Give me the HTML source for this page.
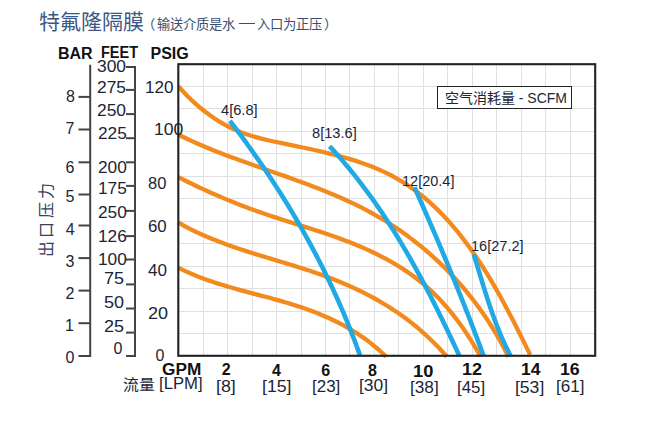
<!DOCTYPE html>
<html lang="zh-CN"><head><meta charset="utf-8">
<style>
html,body{margin:0;padding:0;background:#fff;}
body{width:657px;height:436px;position:relative;overflow:hidden;font-family:"Liberation Sans",sans-serif;}
svg{position:absolute;left:0;top:0;}
.g{stroke:#e0e0e0;stroke-width:1;}
.o{fill:none;stroke:#f28a1e;stroke-width:4.3;stroke-linecap:butt;stroke-linejoin:round;}
.b{fill:none;stroke:#20a9e4;stroke-width:4.6;stroke-linecap:butt;stroke-linejoin:round;}
.f{fill:none;stroke:#222;stroke-width:2.1;}
.ax{fill:none;stroke:#444;stroke-width:2;}
.t{position:absolute;white-space:nowrap;line-height:1;transform-origin:0 0;}
</style></head><body>
<svg width="657" height="436" viewBox="0 0 657 436">
<line x1="203.50" y1="64.2" x2="203.50" y2="355.8" class="g"/>
<line x1="227.50" y1="64.2" x2="227.50" y2="355.8" class="g"/>
<line x1="252.50" y1="64.2" x2="252.50" y2="355.8" class="g"/>
<line x1="276.50" y1="64.2" x2="276.50" y2="355.8" class="g"/>
<line x1="301.50" y1="64.2" x2="301.50" y2="355.8" class="g"/>
<line x1="325.50" y1="64.2" x2="325.50" y2="355.8" class="g"/>
<line x1="349.50" y1="64.2" x2="349.50" y2="355.8" class="g"/>
<line x1="374.50" y1="64.2" x2="374.50" y2="355.8" class="g"/>
<line x1="398.50" y1="64.2" x2="398.50" y2="355.8" class="g"/>
<line x1="423.50" y1="64.2" x2="423.50" y2="355.8" class="g"/>
<line x1="447.50" y1="64.2" x2="447.50" y2="355.8" class="g"/>
<line x1="472.50" y1="64.2" x2="472.50" y2="355.8" class="g"/>
<line x1="496.50" y1="64.2" x2="496.50" y2="355.8" class="g"/>
<line x1="521.50" y1="64.2" x2="521.50" y2="355.8" class="g"/>
<line x1="545.50" y1="64.2" x2="545.50" y2="355.8" class="g"/>
<line x1="570.50" y1="64.2" x2="570.50" y2="355.8" class="g"/>
<line x1="178.3" y1="86.50" x2="595.2" y2="86.50" class="g"/>
<line x1="178.3" y1="108.50" x2="595.2" y2="108.50" class="g"/>
<line x1="178.3" y1="131.50" x2="595.2" y2="131.50" class="g"/>
<line x1="178.3" y1="153.50" x2="595.2" y2="153.50" class="g"/>
<line x1="178.3" y1="176.50" x2="595.2" y2="176.50" class="g"/>
<line x1="178.3" y1="198.50" x2="595.2" y2="198.50" class="g"/>
<line x1="178.3" y1="221.50" x2="595.2" y2="221.50" class="g"/>
<line x1="178.3" y1="243.50" x2="595.2" y2="243.50" class="g"/>
<line x1="178.3" y1="266.50" x2="595.2" y2="266.50" class="g"/>
<line x1="178.3" y1="288.50" x2="595.2" y2="288.50" class="g"/>
<line x1="178.3" y1="311.50" x2="595.2" y2="311.50" class="g"/>
<line x1="178.3" y1="333.50" x2="595.2" y2="333.50" class="g"/>
<path d="M178.55 86.40 L182.66 90.99 L186.88 95.43 L191.22 99.71 L195.68 103.82 L200.24 107.76 L204.91 111.52 L209.68 115.09 L214.55 118.45 L219.52 121.61 L224.58 124.55 L229.74 127.25 L234.99 129.73 L240.32 131.95 L245.73 133.95 L251.22 135.75 L256.77 137.37 L262.39 138.85 L268.05 140.22 L273.77 141.49 L279.52 142.71 L285.31 143.90 L291.13 145.09 L296.96 146.28 L302.81 147.50 L308.66 148.74 L314.51 150.02 L320.36 151.34 L326.20 152.72 L332.01 154.15 L337.80 155.65 L343.55 157.24 L349.27 158.90 L354.94 160.66 L360.56 162.52 L366.12 164.49 L371.62 166.58 L377.04 168.79 L382.38 171.14 L387.64 173.64 L392.81 176.28 L397.88 179.08 L402.85 182.05 L407.72 185.19 L412.48 188.47 L417.15 191.91 L421.71 195.50 L426.18 199.22 L430.56 203.07 L434.85 207.05 L439.05 211.15 L443.15 215.36 L447.18 219.68 L451.12 224.11 L454.97 228.63 L458.75 233.23 L462.44 237.93 L466.07 242.69 L469.61 247.53 L473.08 252.44 L476.49 257.40 L479.82 262.42 L483.09 267.48 L486.29 272.59 L489.42 277.73 L492.50 282.89 L495.51 288.08 L498.47 293.29 L501.38 298.51 L504.22 303.73 L507.02 308.95 L509.77 314.16 L512.46 319.35 L515.12 324.53 L517.72 329.68 L520.29 334.80 L522.81 339.88 L525.29 344.91 L527.74 349.90 L530.15 354.82" class="o"/>
<path d="M178.09 134.48 L182.67 136.74 L187.28 138.95 L191.93 141.11 L196.62 143.21 L201.33 145.26 L206.07 147.26 L210.84 149.23 L215.63 151.15 L220.44 153.04 L225.28 154.90 L230.14 156.73 L235.01 158.53 L239.89 160.31 L244.79 162.07 L249.70 163.82 L254.63 165.55 L259.55 167.28 L264.48 169.00 L269.42 170.72 L274.36 172.44 L279.29 174.16 L284.23 175.89 L289.16 177.64 L294.08 179.40 L298.99 181.17 L303.90 182.97 L308.79 184.79 L313.67 186.64 L318.53 188.52 L323.37 190.44 L328.19 192.40 L332.99 194.39 L337.77 196.43 L342.52 198.52 L347.24 200.67 L351.94 202.86 L356.60 205.12 L361.22 207.43 L365.82 209.81 L370.37 212.26 L374.88 214.78 L379.36 217.37 L383.79 220.03 L388.18 222.76 L392.53 225.55 L396.83 228.41 L401.09 231.34 L405.31 234.33 L409.47 237.39 L413.59 240.51 L417.67 243.70 L421.69 246.95 L425.66 250.27 L429.58 253.65 L433.45 257.09 L437.27 260.59 L441.03 264.15 L444.74 267.77 L448.39 271.46 L451.99 275.20 L455.53 279.00 L459.01 282.86 L462.43 286.78 L465.79 290.75 L469.09 294.78 L472.33 298.87 L475.50 303.01 L478.61 307.21 L481.66 311.46 L484.64 315.76 L487.56 320.12 L490.40 324.53 L493.18 328.99 L495.89 333.51 L498.53 338.07 L501.10 342.69 L503.60 347.35 L506.02 352.07 L508.37 356.83" class="o"/>
<path d="M178.34 177.05 L182.42 179.16 L186.52 181.23 L190.63 183.26 L194.75 185.26 L198.88 187.23 L203.02 189.17 L207.17 191.07 L211.34 192.94 L215.52 194.79 L219.71 196.59 L223.91 198.37 L228.12 200.12 L232.35 201.84 L236.59 203.52 L240.84 205.18 L245.10 206.81 L249.38 208.41 L253.66 209.98 L257.96 211.52 L262.28 213.03 L266.61 214.51 L270.94 215.97 L275.29 217.41 L279.65 218.83 L284.02 220.23 L288.39 221.62 L292.76 223.00 L297.14 224.39 L301.52 225.77 L305.90 227.15 L310.27 228.55 L314.64 229.95 L319.00 231.38 L323.36 232.82 L327.70 234.28 L332.04 235.78 L336.36 237.30 L340.66 238.86 L344.95 240.46 L349.22 242.10 L353.47 243.79 L357.70 245.52 L361.91 247.30 L366.08 249.14 L370.23 251.03 L374.35 252.98 L378.43 254.98 L382.47 257.05 L386.48 259.18 L390.44 261.37 L394.36 263.63 L398.24 265.97 L402.07 268.37 L405.84 270.84 L409.57 273.40 L413.23 276.03 L416.84 278.74 L420.39 281.53 L423.88 284.40 L427.31 287.37 L430.66 290.42 L433.96 293.55 L437.18 296.77 L440.35 300.06 L443.44 303.42 L446.48 306.86 L449.45 310.36 L452.36 313.93 L455.21 317.55 L458.00 321.24 L460.73 324.97 L463.40 328.76 L466.01 332.59 L468.57 336.46 L471.06 340.37 L473.50 344.32 L475.88 348.30 L478.21 352.31 L480.48 356.34" class="o"/>
<path d="M177.94 222.27 L181.25 224.17 L184.59 226.01 L187.96 227.80 L191.35 229.54 L194.77 231.22 L198.21 232.86 L201.68 234.44 L205.17 235.99 L208.68 237.49 L212.21 238.95 L215.75 240.37 L219.32 241.76 L222.90 243.11 L226.50 244.43 L230.11 245.72 L233.74 246.99 L237.37 248.23 L241.02 249.45 L244.68 250.65 L248.35 251.83 L252.03 252.99 L255.71 254.14 L259.41 255.28 L263.10 256.41 L266.80 257.53 L270.51 258.65 L274.21 259.77 L277.92 260.88 L281.62 262.00 L285.33 263.12 L289.03 264.25 L292.73 265.38 L296.43 266.53 L300.12 267.69 L303.80 268.87 L307.48 270.06 L311.14 271.27 L314.80 272.50 L318.45 273.76 L322.09 275.05 L325.71 276.36 L329.32 277.70 L332.92 279.08 L336.50 280.49 L340.06 281.94 L343.60 283.42 L347.13 284.94 L350.64 286.50 L354.13 288.10 L357.61 289.73 L361.06 291.41 L364.49 293.12 L367.90 294.87 L371.28 296.67 L374.65 298.51 L377.99 300.39 L381.30 302.31 L384.59 304.28 L387.86 306.29 L391.10 308.34 L394.31 310.44 L397.50 312.59 L400.66 314.79 L403.79 317.03 L406.89 319.32 L409.96 321.66 L412.99 324.04 L416.00 326.48 L418.98 328.97 L421.92 331.51 L424.83 334.10 L427.71 336.74 L430.55 339.44 L433.36 342.19 L436.13 344.99 L438.86 347.85 L441.56 350.77 L444.22 353.74 L446.84 356.76" class="o"/>
<path d="M178.13 267.62 L180.70 268.91 L183.29 270.16 L185.90 271.38 L188.52 272.56 L191.15 273.71 L193.80 274.83 L196.46 275.91 L199.13 276.96 L201.81 277.99 L204.51 278.98 L207.21 279.95 L209.93 280.90 L212.66 281.82 L215.39 282.72 L218.13 283.61 L220.88 284.47 L223.64 285.31 L226.41 286.14 L229.18 286.95 L231.95 287.75 L234.74 288.54 L237.52 289.32 L240.31 290.08 L243.10 290.84 L245.90 291.59 L248.70 292.34 L251.50 293.09 L254.30 293.83 L257.10 294.57 L259.90 295.31 L262.70 296.05 L265.50 296.79 L268.29 297.54 L271.09 298.30 L273.88 299.06 L276.67 299.83 L279.45 300.61 L282.23 301.41 L285.00 302.21 L287.77 303.03 L290.53 303.87 L293.29 304.72 L296.03 305.59 L298.77 306.48 L301.50 307.39 L304.22 308.32 L306.94 309.28 L309.64 310.26 L312.33 311.26 L315.01 312.28 L317.68 313.34 L320.34 314.42 L322.98 315.52 L325.61 316.66 L328.23 317.82 L330.84 319.02 L333.43 320.24 L336.01 321.50 L338.57 322.79 L341.12 324.11 L343.65 325.46 L346.17 326.86 L348.67 328.28 L351.15 329.75 L353.61 331.25 L356.06 332.78 L358.49 334.36 L360.90 335.98 L363.29 337.64 L365.66 339.34 L368.01 341.08 L370.34 342.87 L372.65 344.70 L374.93 346.57 L377.20 348.49 L379.44 350.46 L381.66 352.47 L383.86 354.53 L386.03 356.64" class="o"/>
<path d="M229.87 120.82 L231.94 123.54 L234.00 126.25 L236.05 128.98 L238.10 131.71 L240.14 134.45 L242.17 137.20 L244.18 139.95 L246.19 142.72 L248.20 145.48 L250.19 148.26 L252.17 151.05 L254.14 153.84 L256.10 156.64 L258.06 159.44 L260.00 162.25 L261.94 165.07 L263.86 167.90 L265.77 170.73 L267.68 173.58 L269.57 176.42 L271.46 179.28 L273.33 182.14 L275.19 185.01 L277.04 187.89 L278.89 190.77 L280.72 193.66 L282.54 196.56 L284.35 199.46 L286.15 202.37 L287.93 205.29 L289.71 208.21 L291.47 211.14 L293.23 214.08 L294.97 217.03 L296.70 219.98 L298.42 222.93 L300.13 225.90 L301.83 228.87 L303.51 231.85 L305.18 234.83 L306.84 237.82 L308.49 240.82 L310.13 243.82 L311.75 246.83 L313.37 249.85 L314.97 252.87 L316.55 255.90 L318.13 258.94 L319.69 261.98 L321.24 265.03 L322.77 268.08 L324.30 271.15 L325.81 274.21 L327.30 277.29 L328.79 280.37 L330.26 283.45 L331.72 286.54 L333.16 289.64 L334.59 292.75 L336.01 295.86 L337.41 298.97 L338.80 302.10 L340.17 305.23 L341.54 308.36 L342.88 311.50 L344.22 314.65 L345.53 317.80 L346.84 320.96 L348.13 324.12 L349.41 327.29 L350.67 330.47 L351.91 333.65 L353.14 336.84 L354.36 340.03 L355.56 343.23 L356.75 346.44 L357.92 349.65 L359.08 352.86 L360.22 356.08" class="b"/>
<path d="M329.60 146.25 L331.75 148.57 L333.88 150.91 L336.00 153.25 L338.10 155.61 L340.18 157.98 L342.24 160.36 L344.29 162.75 L346.32 165.15 L348.33 167.57 L350.33 169.99 L352.31 172.43 L354.28 174.88 L356.23 177.34 L358.17 179.81 L360.09 182.29 L361.99 184.78 L363.88 187.28 L365.76 189.79 L367.62 192.31 L369.47 194.84 L371.30 197.39 L373.12 199.94 L374.93 202.50 L376.72 205.06 L378.50 207.64 L380.26 210.23 L382.02 212.82 L383.76 215.43 L385.48 218.04 L387.20 220.66 L388.90 223.29 L390.59 225.93 L392.27 228.57 L393.93 231.23 L395.59 233.89 L397.23 236.55 L398.86 239.23 L400.48 241.91 L402.09 244.60 L403.69 247.30 L405.28 250.00 L406.85 252.71 L408.42 255.42 L409.98 258.14 L411.52 260.87 L413.06 263.60 L414.59 266.34 L416.11 269.09 L417.62 271.84 L419.12 274.59 L420.61 277.35 L422.09 280.12 L423.57 282.89 L425.03 285.67 L426.49 288.45 L427.94 291.23 L429.38 294.02 L430.82 296.81 L432.24 299.61 L433.66 302.41 L435.08 305.21 L436.48 308.02 L437.88 310.83 L439.27 313.65 L440.66 316.46 L442.04 319.28 L443.41 322.11 L444.78 324.93 L446.14 327.76 L447.50 330.59 L448.85 333.42 L450.19 336.26 L451.54 339.10 L452.87 341.93 L454.20 344.77 L455.53 347.61 L456.85 350.46 L458.17 353.30 L459.49 356.15" class="b"/>
<path d="M414.51 187.47 L415.45 189.57 L416.39 191.67 L417.32 193.77 L418.26 195.88 L419.19 197.98 L420.12 200.09 L421.05 202.19 L421.98 204.30 L422.90 206.41 L423.83 208.52 L424.75 210.62 L425.68 212.73 L426.60 214.85 L427.52 216.96 L428.44 219.07 L429.36 221.18 L430.27 223.30 L431.19 225.41 L432.10 227.53 L433.01 229.65 L433.92 231.76 L434.83 233.88 L435.74 236.00 L436.64 238.12 L437.55 240.24 L438.45 242.37 L439.35 244.49 L440.25 246.61 L441.15 248.74 L442.04 250.86 L442.94 252.99 L443.83 255.12 L444.72 257.24 L445.61 259.37 L446.50 261.50 L447.38 263.63 L448.27 265.76 L449.15 267.89 L450.03 270.03 L450.91 272.16 L451.78 274.29 L452.66 276.43 L453.53 278.57 L454.40 280.70 L455.27 282.84 L456.14 284.98 L457.01 287.12 L457.87 289.26 L458.74 291.40 L459.60 293.54 L460.45 295.68 L461.31 297.82 L462.16 299.97 L463.02 302.11 L463.87 304.26 L464.72 306.40 L465.56 308.55 L466.41 310.70 L467.25 312.85 L468.09 314.99 L468.93 317.14 L469.76 319.29 L470.60 321.45 L471.43 323.60 L472.26 325.75 L473.09 327.90 L473.91 330.06 L474.74 332.21 L475.56 334.37 L476.38 336.53 L477.19 338.68 L478.01 340.84 L478.82 343.00 L479.63 345.16 L480.44 347.32 L481.24 349.48 L482.05 351.64 L482.85 353.81 L483.65 355.97" class="b"/>
<path d="M473.76 254.42 L474.16 255.73 L474.57 257.03 L474.97 258.34 L475.37 259.64 L475.77 260.95 L476.17 262.26 L476.57 263.57 L476.97 264.87 L477.37 266.18 L477.77 267.49 L478.16 268.80 L478.56 270.11 L478.96 271.42 L479.36 272.73 L479.75 274.04 L480.15 275.35 L480.55 276.66 L480.95 277.97 L481.34 279.28 L481.74 280.59 L482.14 281.90 L482.55 283.21 L482.95 284.52 L483.35 285.83 L483.76 287.14 L484.16 288.45 L484.57 289.75 L484.98 291.06 L485.39 292.37 L485.80 293.67 L486.21 294.98 L486.63 296.28 L487.05 297.59 L487.47 298.89 L487.89 300.19 L488.32 301.49 L488.75 302.80 L489.18 304.09 L489.61 305.39 L490.05 306.69 L490.49 307.99 L490.93 309.28 L491.38 310.58 L491.83 311.87 L492.28 313.16 L492.74 314.45 L493.20 315.74 L493.67 317.03 L494.14 318.31 L494.61 319.60 L495.09 320.88 L495.57 322.16 L496.05 323.44 L496.54 324.72 L497.04 325.99 L497.54 327.27 L498.04 328.54 L498.55 329.81 L499.07 331.08 L499.59 332.35 L500.11 333.61 L500.65 334.87 L501.18 336.13 L501.72 337.39 L502.27 338.65 L502.83 339.90 L503.39 341.15 L503.95 342.40 L504.53 343.65 L505.11 344.89 L505.69 346.13 L506.28 347.37 L506.88 348.61 L507.49 349.84 L508.10 351.07 L508.72 352.30 L509.35 353.52 L509.98 354.75 L510.62 355.96" class="b"/>
<rect x="178.30" y="64.20" width="416.90" height="291.60" class="f"/>
<path d="M90.20 64.80 V356.00 H78.50" class="ax"/>
<line x1="78.50" y1="96.90" x2="90.20" y2="96.90" class="ax"/>
<line x1="78.50" y1="129.50" x2="90.20" y2="129.50" class="ax"/>
<line x1="78.50" y1="162.30" x2="90.20" y2="162.30" class="ax"/>
<line x1="78.50" y1="194.50" x2="90.20" y2="194.50" class="ax"/>
<line x1="78.50" y1="225.50" x2="90.20" y2="225.50" class="ax"/>
<line x1="78.50" y1="258.10" x2="90.20" y2="258.10" class="ax"/>
<line x1="78.50" y1="290.60" x2="90.20" y2="290.60" class="ax"/>
<line x1="78.50" y1="323.20" x2="90.20" y2="323.20" class="ax"/>
<path d="M126.00 66.90 H135.00 V356.00 H126.00" class="ax"/>
<line x1="126.00" y1="89.90" x2="135.00" y2="89.90" class="ax"/>
<line x1="126.00" y1="114.10" x2="135.00" y2="114.10" class="ax"/>
<line x1="126.00" y1="138.20" x2="135.00" y2="138.20" class="ax"/>
<line x1="126.00" y1="162.30" x2="135.00" y2="162.30" class="ax"/>
<line x1="126.00" y1="185.90" x2="135.00" y2="185.90" class="ax"/>
<line x1="126.00" y1="210.90" x2="135.00" y2="210.90" class="ax"/>
<line x1="126.00" y1="236.10" x2="135.00" y2="236.10" class="ax"/>
<line x1="126.00" y1="259.50" x2="135.00" y2="259.50" class="ax"/>
<line x1="126.00" y1="284.40" x2="135.00" y2="284.40" class="ax"/>
<line x1="126.00" y1="308.50" x2="135.00" y2="308.50" class="ax"/>
<line x1="126.00" y1="332.60" x2="135.00" y2="332.60" class="ax"/>
</svg>
<div style="position:absolute;left:238.8px;top:22.9px;width:16.5px;height:1.2px;background:#3a4f70;"></div><div style="position:absolute;left:436.60px;top:85.90px;width:135.60px;height:23.40px;border:1.80px solid #222;box-sizing:border-box;background:#fff;"></div>
<div class="t" style="left:58.00px;top:46.30px;font-size:16px;font-weight:bold;color:#111;">BAR</div>
<div class="t" style="left:100.60px;top:45.30px;font-size:16px;font-weight:bold;color:#111;transform:scaleX(0.905);">FEET</div>
<div class="t" style="left:150.50px;top:46.30px;font-size:16px;font-weight:bold;color:#111;">PSIG</div>
<div class="t" style="left:65.90px;top:89.10px;font-size:16px;font-weight:normal;color:#1c2535;">8</div>
<div class="t" style="left:65.50px;top:121.40px;font-size:16px;font-weight:normal;color:#1c2535;">7</div>
<div class="t" style="left:65.50px;top:159.80px;font-size:16px;font-weight:normal;color:#1c2535;">6</div>
<div class="t" style="left:65.50px;top:189.20px;font-size:16px;font-weight:normal;color:#1c2535;">5</div>
<div class="t" style="left:65.80px;top:222.30px;font-size:16px;font-weight:normal;color:#1c2535;">4</div>
<div class="t" style="left:65.50px;top:253.50px;font-size:16px;font-weight:normal;color:#1c2535;">3</div>
<div class="t" style="left:65.50px;top:286.40px;font-size:16px;font-weight:normal;color:#1c2535;">2</div>
<div class="t" style="left:65.00px;top:317.70px;font-size:16px;font-weight:normal;color:#1c2535;">1</div>
<div class="t" style="left:65.50px;top:350.00px;font-size:16px;font-weight:normal;color:#1c2535;">0</div>
<div class="t" style="left:97.20px;top:58.60px;font-size:16px;font-weight:normal;color:#1c2535;transform:scaleX(1.088);">300</div>
<div class="t" style="left:97.20px;top:80.30px;font-size:16px;font-weight:normal;color:#1c2535;transform:scaleX(1.088);">275</div>
<div class="t" style="left:97.20px;top:103.00px;font-size:16px;font-weight:normal;color:#1c2535;transform:scaleX(1.088);">250</div>
<div class="t" style="left:97.60px;top:126.30px;font-size:16px;font-weight:normal;color:#1c2535;transform:scaleX(1.080);">225</div>
<div class="t" style="left:97.60px;top:160.40px;font-size:16px;font-weight:normal;color:#1c2535;transform:scaleX(1.080);">200</div>
<div class="t" style="left:97.60px;top:181.20px;font-size:16px;font-weight:normal;color:#1c2535;transform:scaleX(1.080);">175</div>
<div class="t" style="left:97.60px;top:204.70px;font-size:16px;font-weight:normal;color:#1c2535;transform:scaleX(1.080);">250</div>
<div class="t" style="left:97.60px;top:229.10px;font-size:16px;font-weight:normal;color:#1c2535;transform:scaleX(1.080);">126</div>
<div class="t" style="left:97.60px;top:251.80px;font-size:16px;font-weight:normal;color:#1c2535;transform:scaleX(1.080);">100</div>
<div class="t" style="left:104.00px;top:271.20px;font-size:16px;font-weight:normal;color:#1c2535;transform:scaleX(1.125);">75</div>
<div class="t" style="left:104.00px;top:295.00px;font-size:16px;font-weight:normal;color:#1c2535;transform:scaleX(1.125);">50</div>
<div class="t" style="left:104.00px;top:318.80px;font-size:16px;font-weight:normal;color:#1c2535;transform:scaleX(1.125);">25</div>
<div class="t" style="left:113.60px;top:341.40px;font-size:16px;font-weight:normal;color:#1c2535;">0</div>
<div class="t" style="left:145.30px;top:80.30px;font-size:16px;font-weight:normal;color:#1c2535;transform:scaleX(1.064);">120</div>
<div class="t" style="left:154.30px;top:121.60px;font-size:16px;font-weight:normal;color:#1c2535;transform:scaleX(1.100);">100</div>
<div class="t" style="left:147.90px;top:175.90px;font-size:16px;font-weight:normal;color:#1c2535;transform:scaleX(1.031);">80</div>
<div class="t" style="left:147.80px;top:219.00px;font-size:16px;font-weight:normal;color:#1c2535;transform:scaleX(1.051);">60</div>
<div class="t" style="left:148.10px;top:263.40px;font-size:16px;font-weight:normal;color:#1c2535;transform:scaleX(1.066);">40</div>
<div class="t" style="left:147.60px;top:306.00px;font-size:16px;font-weight:normal;color:#1c2535;transform:scaleX(1.125);">20</div>
<div class="t" style="left:155.40px;top:347.70px;font-size:16px;font-weight:normal;color:#1c2535;">0</div>
<div class="t" style="left:162.10px;top:362.30px;font-size:16px;font-weight:bold;color:#111;transform:scaleX(1.077);">GPM</div>
<div class="t" style="left:221.80px;top:362.30px;font-size:16px;font-weight:bold;color:#111;">2</div>
<div class="t" style="left:272.10px;top:362.60px;font-size:16px;font-weight:bold;color:#111;">4</div>
<div class="t" style="left:321.30px;top:362.60px;font-size:16px;font-weight:bold;color:#111;">6</div>
<div class="t" style="left:367.90px;top:362.60px;font-size:16px;font-weight:bold;color:#111;">8</div>
<div class="t" style="left:413.20px;top:363.70px;font-size:16px;font-weight:bold;color:#111;transform:scaleX(1.143);">10</div>
<div class="t" style="left:462.10px;top:361.80px;font-size:16px;font-weight:bold;color:#111;transform:scaleX(1.125);">12</div>
<div class="t" style="left:521.10px;top:361.80px;font-size:16px;font-weight:bold;color:#111;transform:scaleX(1.094);">14</div>
<div class="t" style="left:560.20px;top:361.80px;font-size:16px;font-weight:bold;color:#111;transform:scaleX(1.109);">16</div>
<div class="t" style="left:216.20px;top:378.80px;font-size:16px;font-weight:normal;color:#1c2535;transform:scaleX(1.112);">[8]</div>
<div class="t" style="left:262.40px;top:378.70px;font-size:16px;font-weight:normal;color:#1c2535;transform:scaleX(1.102);">[15]</div>
<div class="t" style="left:311.60px;top:378.70px;font-size:16px;font-weight:normal;color:#1c2535;transform:scaleX(1.060);">[23]</div>
<div class="t" style="left:358.80px;top:378.30px;font-size:16px;font-weight:normal;color:#1c2535;transform:scaleX(1.092);">[30]</div>
<div class="t" style="left:409.60px;top:380.40px;font-size:16px;font-weight:normal;color:#1c2535;transform:scaleX(1.077);">[38]</div>
<div class="t" style="left:457.40px;top:380.40px;font-size:16px;font-weight:normal;color:#1c2535;transform:scaleX(1.053);">[45]</div>
<div class="t" style="left:515.40px;top:380.40px;font-size:16px;font-weight:normal;color:#1c2535;transform:scaleX(1.096);">[53]</div>
<div class="t" style="left:556.40px;top:378.80px;font-size:16px;font-weight:normal;color:#1c2535;transform:scaleX(1.064);">[61]</div>
<div class="t" style="left:159.10px;top:376.00px;font-size:16px;font-weight:normal;color:#1c2535;transform:scaleX(1.042);">[LPM]</div>
<div class="t" style="left:122.60px;top:377.20px;font-size:15px;font-weight:100;color:#1c2535;transform:scaleX(1.057);">流量</div>
<div class="t" style="left:220.80px;top:103.10px;font-size:14px;font-weight:normal;color:#1c2535;transform:scaleX(1.044);">4[6.8]</div>
<div class="t" style="left:312.30px;top:126.40px;font-size:14px;font-weight:normal;color:#1c2535;transform:scaleX(1.046);">8[13.6]</div>
<div class="t" style="left:401.70px;top:173.80px;font-size:14px;font-weight:normal;color:#1c2535;transform:scaleX(1.037);">12[20.4]</div>
<div class="t" style="left:471.00px;top:239.40px;font-size:14px;font-weight:normal;color:#1c2535;transform:scaleX(1.039);">16[27.2]</div>
<div class="t" style="left:444.90px;top:91.20px;font-size:14px;font-weight:300;color:#1c2535;">空气消耗量 - SCFM</div>
<div class="t" style="left:39.20px;top:10.80px;font-size:21px;font-weight:100;color:#3a5785;">特氟隆隔膜</div>
<div class="t" style="left:142.20px;top:17.74px;font-size:13.3px;font-weight:100;color:#3a4f70;">（</div>
<div class="t" style="left:157.10px;top:17.54px;font-size:13.3px;font-weight:100;color:#3a4f70;">输送介质是水</div>
<div class="t" style="left:256.50px;top:17.54px;font-size:13.3px;font-weight:100;color:#3a4f70;">入口为正压</div>
<div class="t" style="left:324.20px;top:17.74px;font-size:13.3px;font-weight:100;color:#3a4f70;">）</div>
<div class="t" style="left:38.50px;top:257.00px;font-size:16px;letter-spacing:3.50px;font-weight:100;color:#35405a;transform:rotate(-90deg);">出口压力</div>
</body></html>
